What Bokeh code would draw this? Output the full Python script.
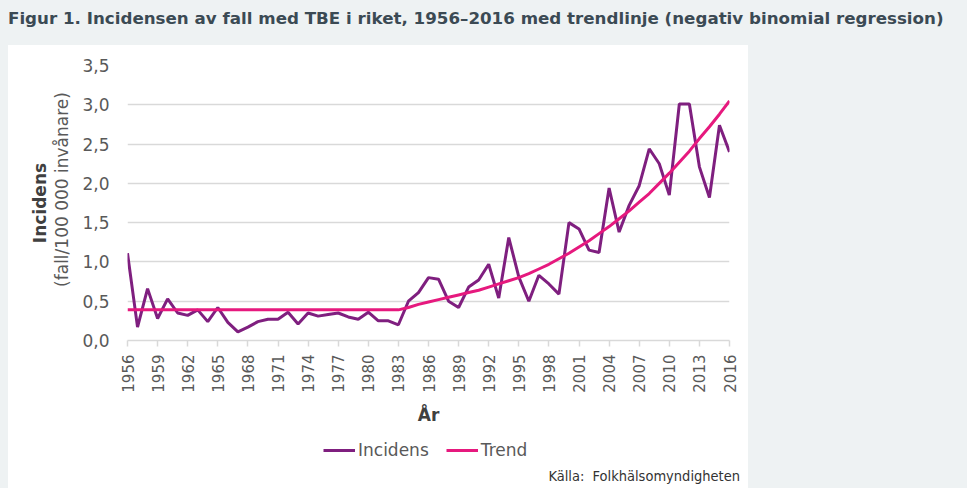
import math
from bokeh.plotting import figure
from bokeh.models import (ColumnDataSource, Legend, LegendItem, FixedTicker,
                          LinearAxis, Div, Spacer, Range1d)
from bokeh.layouts import column, row
from bokeh.embed import file_html
from bokeh.resources import INLINE

# ---------------- data ----------------
years = list(range(1956, 2017))
incidens = [1.11, 0.17, 0.66, 0.28, 0.53, 0.35, 0.32, 0.39, 0.24, 0.42,
            0.23, 0.11, 0.17, 0.24, 0.27, 0.27, 0.36, 0.21, 0.35, 0.31,
            0.33, 0.35, 0.30, 0.27, 0.36, 0.25, 0.25, 0.20, 0.50, 0.61,
            0.80, 0.78, 0.50, 0.42, 0.68, 0.77, 0.97, 0.54, 1.31, 0.81,
            0.50, 0.83, 0.72, 0.59, 1.50, 1.42, 1.15, 1.12, 1.94, 1.38,
            1.72, 1.97, 2.44, 2.25, 1.85, 3.01, 3.01, 2.21, 1.82, 2.74,
            2.40]
trend = [0.39, 0.39, 0.39, 0.39, 0.39, 0.39, 0.39, 0.39, 0.39, 0.39,
         0.39, 0.39, 0.39, 0.39, 0.39, 0.39, 0.39, 0.39, 0.39, 0.39,
         0.39, 0.39, 0.39, 0.39, 0.39, 0.39, 0.39, 0.39, 0.42, 0.46,
         0.49, 0.52, 0.55, 0.58, 0.61, 0.64, 0.68, 0.72, 0.76, 0.80,
         0.85, 0.91, 0.97, 1.04, 1.11, 1.19, 1.27, 1.36, 1.45, 1.55,
         1.65, 1.76, 1.87, 2.00, 2.13, 2.27, 2.41, 2.57, 2.72, 2.88,
         3.05]
x_tick_years = [1956, 1959, 1962, 1965, 1968, 1971, 1974, 1977, 1980, 1983, 1986,
                1989, 1992, 1995, 1998, 2001, 2004, 2007, 2010, 2013, 2016]
y_ticks = [0.0, 0.5, 1.0, 1.5, 2.0, 2.5, 3.0, 3.5]
y_tick_labels = ["0,0", "0,5", "1,0", "1,5", "2,0", "2,5", "3,0", "3,5"]
series_names = ["Incidens", "Trend"]

title_text = "Figur 1. Incidensen av fall med TBE i riket, 1956\u20132016 med trendlinje (negativ binomial regression)"
x_label = "År"
y_label_main = "Incidens"
y_label_sub = "(fall/100 000 invånare)"
source_text = "Källa:&nbsp; Folkhälsomyndigheten"

# ---------------- styles ----------------
BG = "#eef2f3"
PURPLE = "#7f1f7f"
PINK = "#e6197e"
GRID = "#d9d9d9"
TXT = "#595959"
DARK = "#404040"
FONT = "DejaVu Sans"

src = ColumnDataSource(dict(year=years, incidens=incidens, trend=trend))

# ---------------- main chart ----------------
p = figure(width=740, height=387,
           x_range=Range1d(1956, 2016), y_range=Range1d(0, 3.5),
           output_backend="svg", toolbar_location=None,
           min_border_left=119, min_border_right=19,
           min_border_top=20, min_border_bottom=92,
           background_fill_color="white", border_fill_color="white",
           outline_line_color=None)

xa = p.xaxis[0]
xa.ticker = FixedTicker(ticks=x_tick_years)
xa.major_label_orientation = math.pi / 2
xa.major_label_text_font = FONT
xa.major_label_text_font_size = "15px"
xa.major_label_text_color = TXT
xa.major_label_standoff = 8
xa.axis_line_color = GRID
xa.axis_line_width = 1.5
xa.major_tick_line_color = GRID
xa.major_tick_line_width = 1.5
xa.major_tick_out = 6
xa.major_tick_in = 0
xa.minor_tick_line_color = None
xa.axis_label = x_label
xa.axis_label_text_font = FONT
xa.axis_label_text_font_style = "bold"
xa.axis_label_text_font_size = "17px"
xa.axis_label_text_color = DARK
xa.axis_label_standoff = 9

ya = p.yaxis[0]
ya.ticker = FixedTicker(ticks=y_ticks)
ya.major_label_overrides = {t: l for t, l in zip(y_ticks, y_tick_labels)}
ya.major_label_text_font = FONT
ya.major_label_text_font_size = "17px"
ya.major_label_text_color = TXT
ya.axis_line_color = None
ya.major_tick_line_color = None
ya.major_tick_out = 0
ya.major_tick_in = 0
ya.minor_tick_line_color = None
ya.minor_tick_out = 0
ya.major_label_standoff = 18
# leading no-break spaces lift the centred sub-title a little, as in the original
ya.axis_label = "\u00a0" * 5 + y_label_sub
ya.axis_label_text_font = FONT
ya.axis_label_text_font_style = "normal"
ya.axis_label_text_font_size = "17px"
ya.axis_label_text_color = TXT
ya.axis_label_standoff = 7

ya2 = LinearAxis(ticker=FixedTicker(ticks=[]), axis_line_color=None,
                 major_tick_line_color=None, minor_tick_line_color=None,
                 major_tick_out=0, major_tick_in=0, minor_tick_out=0,
                 major_label_standoff=0, axis_label=y_label_main,
                 axis_label_standoff=0, axis_label_text_font=FONT,
                 axis_label_text_font_style="bold",
                 axis_label_text_font_size="17px",
                 axis_label_text_color=DARK)
p.add_layout(ya2, "left")

p.xgrid.visible = False
p.ygrid.ticker = FixedTicker(ticks=y_ticks)
p.ygrid.grid_line_color = GRID
p.ygrid.grid_line_width = 1.5

p.line("year", "incidens", source=src, line_color=PURPLE, line_width=3)
p.line("year", "trend", source=src, line_color=PINK, line_width=3)

# ---------------- footer: legend ----------------
foot = figure(width=740, height=36,
              x_range=Range1d(0, 1), y_range=Range1d(0, 1),
              output_backend="svg", toolbar_location=None,
              x_axis_type=None, y_axis_type=None,
              min_border_left=119, min_border_right=19,
              min_border_top=0, min_border_bottom=0,
              background_fill_color=None, border_fill_color="white",
              outline_line_color=None)
# legend keys (data lies outside this strip's ranges, so only the keys show)
l1 = foot.line("year", "incidens", source=src, line_color=PURPLE, line_width=3)
l2 = foot.line("year", "trend", source=src, line_color=PINK, line_width=3)

legend = Legend(items=[LegendItem(label=series_names[0], renderers=[l1]),
                       LegendItem(label=series_names[1], renderers=[l2])],
                location=(196, 8), orientation="horizontal",
                padding=0, margin=0, spacing=17,
                glyph_width=32, glyph_height=20, label_height=20,
                label_standoff=3, label_text_font=FONT,
                label_text_font_size="17px", label_text_color=TXT,
                background_fill_alpha=0, border_line_color=None)
foot.add_layout(legend)

source_div = Div(text=source_text, width=740, height=20, margin=0,
                 styles={"font-family": "'DejaVu Sans Condensed', 'DejaVu Sans', sans-serif",
                         "font-size": "14.5px", "color": "#333333",
                         "line-height": "16px", "text-align": "right",
                         "background-color": "white", "padding-right": "8px",
                         "box-sizing": "border-box", "white-space": "nowrap"})

title_div = Div(text=title_text, width=951, height=37, margin=0,
                styles={"font-family": "'DejaVu Sans', sans-serif",
                        "font-weight": "bold", "font-size": "16.7px",
                        "color": "#3b4a54", "line-height": "20px",
                        "white-space": "nowrap"})

panel = column(p, foot, source_div, styles={"background-color": "white"})

layout = column(Spacer(width=967, height=8),
                row(Spacer(width=8, height=37), title_div),
                row(Spacer(width=8, height=443), panel,
                    Spacer(width=219, height=443)),
                styles={"background-color": BG})

html = file_html(layout, INLINE, title="TBE")
html = html.replace("<body>", '<body style="background-color:%s;">' % BG, 1)
open("out.html", "w").write(html)
